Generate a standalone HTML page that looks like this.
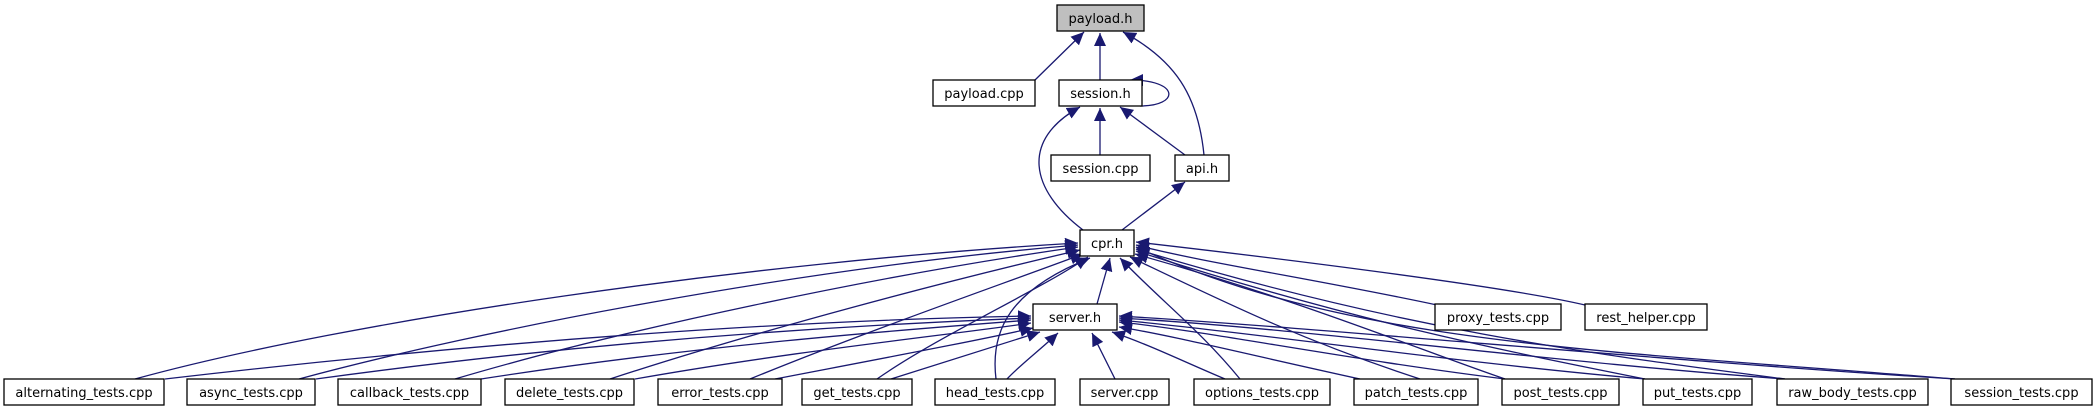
<!DOCTYPE html>
<html><head><meta charset="utf-8"><style>
html,body{margin:0;padding:0;background:#fff;}
svg{display:block;}
text{font-family:"DejaVu Sans","Liberation Sans",sans-serif;font-size:13px;fill:#000;}
</style></head><body>
<svg width="2095" height="411" viewBox="0 0 2095 411" xmlns="http://www.w3.org/2000/svg">
<defs>
<marker id="a" markerUnits="userSpaceOnUse" markerWidth="14" markerHeight="12" refX="13" refY="6" orient="auto">
<path d="M0,0 L13,6 L0,12 z" fill="#191970"/>
</marker>
</defs>
<g fill="none" stroke="#191970" stroke-width="1.3" marker-end="url(#a)">
<!-- top -->
<path d="M1035,80 L1084,32"/>
<path d="M1100,80 L1100,33"/>
<path d="M1204,155 C1198,95 1175,60 1123,32"/>
<path d="M1140,106 C1180,106 1180,80 1130,80"/>
<path d="M1100,155 L1100,108"/>
<path d="M1185,155 L1120,107"/>
<path d="M1083,230 C1030,190 1020,140 1080,107"/>
<path d="M1122,230 L1185,182"/>
<!-- cpr children left -->
<path d="M135,379 C350,320 750,262 1078,243"/>
<path d="M299,379 C480,330 800,268 1078,245"/>
<path d="M455,379 C620,330 880,275 1078,247"/>
<path d="M610,379 C760,330 950,280 1080,250"/>
<path d="M750,379 C870,330 1000,285 1083,254"/>
<path d="M877,379 C940,335 1040,290 1088,257"/>
<path d="M996,379 C990,330 1010,290 1090,258"/>
<path d="M1097,304 L1110,258"/>
<!-- cpr children right -->
<path d="M1437,305 C1320,280 1200,262 1136,245"/>
<path d="M1585,305 C1500,285 1250,255 1136,242"/>
<path d="M1240,379 C1200,330 1160,300 1120,258"/>
<path d="M1420,379 C1300,340 1220,300 1130,257"/>
<path d="M1505,379 C1420,350 1300,300 1135,254"/>
<path d="M1645,379 C1500,350 1350,320 1136,251"/>
<path d="M1785,379 C1600,355 1400,330 1136,249"/>
<path d="M1955,379 C1600,350 1350,345 1136,247"/>
<!-- server children -->
<path d="M165,379 C500,340 800,320 1031,316"/>
<path d="M316,379 C600,340 850,325 1031,318"/>
<path d="M481,379 C700,345 900,330 1031,320"/>
<path d="M635,379 C800,350 950,335 1031,323"/>
<path d="M775,379 C900,355 980,340 1033,328"/>
<path d="M891,379 C950,360 1000,345 1040,332"/>
<path d="M1007,379 C1020,365 1040,350 1058,333"/>
<path d="M1115,379 L1092,333"/>
<path d="M1225,379 C1180,360 1150,345 1112,332"/>
<path d="M1360,379 C1250,355 1170,335 1119,327"/>
<path d="M1505,379 C1350,360 1200,330 1119,322"/>
<path d="M1645,379 C1450,362 1250,332 1119,320"/>
<path d="M1785,379 C1550,362 1300,328 1119,318"/>
<path d="M1955,379 C1650,360 1350,330 1119,316"/>
</g>
<g stroke="#000" stroke-width="1.3" fill="#fff">
<rect x="1057" y="5" width="87" height="26" fill="#bfbfbf"/>
<rect x="933" y="80" width="102" height="26"/>
<rect x="1059" y="80" width="83" height="26"/>
<rect x="1051" y="155" width="99" height="26"/>
<rect x="1175" y="155" width="54" height="26"/>
<rect x="1080" y="230" width="54" height="26"/>
<rect x="1033" y="304" width="84" height="26"/>
<rect x="1435" y="304" width="126" height="26"/>
<rect x="1585" y="304" width="122" height="26"/>
<rect x="4" y="379" width="160" height="26"/>
<rect x="187" y="379" width="128" height="26"/>
<rect x="338" y="379" width="143" height="26"/>
<rect x="505" y="379" width="129" height="26"/>
<rect x="658" y="379" width="124" height="26"/>
<rect x="802" y="379" width="110" height="26"/>
<rect x="935" y="379" width="120" height="26"/>
<rect x="1080" y="379" width="89" height="26"/>
<rect x="1194" y="379" width="136" height="26"/>
<rect x="1354" y="379" width="124" height="26"/>
<rect x="1502" y="379" width="117" height="26"/>
<rect x="1643" y="379" width="109" height="26"/>
<rect x="1777" y="379" width="151" height="26"/>
<rect x="1951" y="379" width="141" height="26"/>
</g>
<g text-anchor="middle">
<text x="1100.5" y="23">payload.h</text>
<text x="984" y="98">payload.cpp</text>
<text x="1100.5" y="98">session.h</text>
<text x="1100.5" y="173">session.cpp</text>
<text x="1202" y="173">api.h</text>
<text x="1107" y="248">cpr.h</text>
<text x="1075" y="322">server.h</text>
<text x="1498" y="322">proxy_tests.cpp</text>
<text x="1646" y="322">rest_helper.cpp</text>
<text x="84" y="397">alternating_tests.cpp</text>
<text x="251" y="397">async_tests.cpp</text>
<text x="409.5" y="397">callback_tests.cpp</text>
<text x="569.5" y="397">delete_tests.cpp</text>
<text x="720" y="397">error_tests.cpp</text>
<text x="857" y="397">get_tests.cpp</text>
<text x="995" y="397">head_tests.cpp</text>
<text x="1124.5" y="397">server.cpp</text>
<text x="1262" y="397">options_tests.cpp</text>
<text x="1416" y="397">patch_tests.cpp</text>
<text x="1560.5" y="397">post_tests.cpp</text>
<text x="1697.5" y="397">put_tests.cpp</text>
<text x="1852.5" y="397">raw_body_tests.cpp</text>
<text x="2021.5" y="397">session_tests.cpp</text>
</g>
</svg>
</body></html>
